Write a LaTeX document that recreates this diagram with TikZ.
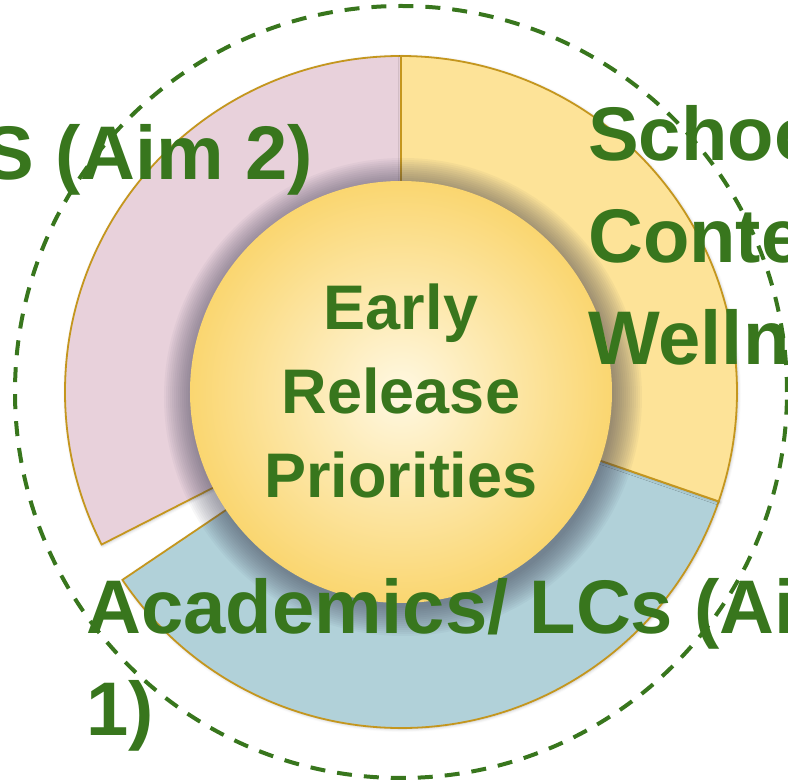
\documentclass[tikz,border=0pt]{standalone}
\usepackage{fontspec}
\setmainfont{Liberation Sans}
\usetikzlibrary{positioning}
\usetikzlibrary{shadows.blur}

\definecolor{aimgreen}{RGB}{56,118,29}
\definecolor{rimgold}{RGB}{196,150,30}
\definecolor{segpink}{RGB}{232,209,219}
\definecolor{segyellow}{RGB}{253,227,152}
\definecolor{segblue}{RGB}{177,209,217}
\definecolor{discin}{RGB}{255,248,226}
\definecolor{discout}{RGB}{250,214,112}
\definecolor{hubshade}{RGB}{60,60,80}
\pgfdeclareradialshading{discglow}{\pgfpoint{0bp}{0bp}}{color(0bp)=(discin);
    color(25bp)=(discout); color(50bp)=(discout)}

\begin{document}
\begin{tikzpicture}[
    x=1pt, y=1pt,
    every node/.style={inner sep=0, text=aimgreen, font=\bfseries},
    segment/.style={draw=rimgold, line width=1.8pt, blur shadow={shadow 
            xshift=1pt, shadow yshift=-1pt, shadow blur radius=3pt, shadow 
            opacity=25}},
    hub/.style={circle, minimum size=422, shading=discglow},
    hubshadow/.style={fill=hubshade, opacity=0.045},
    boundary/.style={circle, draw=aimgreen, line width=4pt, dash pattern=on 
        15pt off 12pt, minimum size=772},
    aimlabel/.style={align=left, font=\fontsize{76}{102}\selectfont\bfseries},
    ]

    \clip (-401,-391) rectangle (387,392);

    \foreach \col/\a/\b in {segpink/90/207, segblue/214/341, segyellow/-19/90} {
        \filldraw [segment, fill=\col] (\a:195pt) -- (\a:336pt)
            arc [start angle=\a, end angle=\b, radius=336pt]
            -- (\b:195pt) arc [start angle=\b, end angle=\a, radius=195pt]
            -- cycle;
    }

    % soft shadow under the hub
    \foreach \r in {239,237,...,211} {
        \fill [hubshadow] (2, -5) circle [radius=\r pt];
    }

    \node (hub) [hub] at (0, 0) {};
    \node (hub-text) [below=103 of hub.north, align=center, 
        font=\fontsize{63}{84}\selectfont\bfseries] {Early\\Release\\Priorities};

    \node (boundary) [boundary] at (0, 0) {};

    \node (aim-two) [aimlabel, anchor=base east] at (-88, 212) {S (Aim 2)};
    \node (school) [aimlabel, anchor=north west] at (187, 287) 
        {Schoo\\Conte\\Wellny};
    \node (academics) [aimlabel, anchor=north west] at (-315, -186) 
        {Academics/ LCs (Ai\\1)};
\end{tikzpicture}
\end{document}
